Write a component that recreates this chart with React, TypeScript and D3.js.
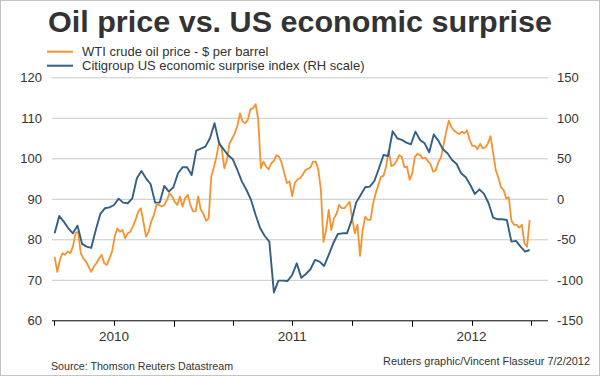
import React from "react";
import * as d3 from "d3";

// ---- Data ----
const oilStart = new Date(2010, 6, 2);
const oilStepDays = 4;
const oilPrice: number[] = [
  75.8, 72.1, 75, 76.7, 76.3, 77.1, 76.7, 78.3, 81.6, 82,
  76.7, 75.4, 74.6, 73.4, 72.1, 73.4, 74.2, 75.4, 76.3, 74.2,
  73.8, 75.4, 77.1, 80.8, 82.8, 82, 82.4, 80.4, 81.6, 82,
  83.3, 84.9, 87, 87.8, 84.5, 80.8, 82, 84.5, 86.1, 88.6,
  88.6, 88.2, 88.6, 89.8, 91.5, 90.7, 89.4, 88.6, 90.7, 88.2,
  90.3, 91.1, 88.6, 87, 87, 90.7, 87.4, 86.4, 84.7, 85.3,
  95.6, 97.9, 100.5, 104.2, 102.6, 97.7, 99.7, 103.8, 105, 106.3,
  108.1, 111.2, 109.2, 108.8, 109.6, 112.2, 112.5, 113.5, 109.6, 97.7,
  99.3, 98.1, 97.4, 98.9, 99.5, 100.9, 100.5, 98.9, 96.4, 94,
  94.4, 90.8, 94, 94.9, 95.2, 96, 97.2, 97.5, 97.9, 99.3,
  99.3, 97.4, 92.3, 79.5, 82.4, 87.4, 82.4, 85.3, 86.5, 88.6,
  87.8, 87.8, 88.6, 89.4, 85.3, 81.6, 83.7, 76, 82.4, 85.7,
  84.9, 84.9, 89, 91.5, 93.5, 95.6, 95.8, 98.1, 102, 98.2,
  98.5, 99.5, 100.9, 100.5, 97.9, 98.1, 94.8, 96.4, 100.5, 101.2,
  100.9, 100.1, 100.3, 99.4, 98.7, 96.8, 97.2, 99.1, 100.3, 103.4,
  106.7, 109.4, 107.8, 107, 106.5, 106.1, 106.7, 106.3, 107, 104.7,
  103.2, 103.2, 102.4, 103.7, 102.6, 102.8, 103.8, 105.6, 101.4, 97.2,
  95.4, 93, 92.3, 90.2, 90.5, 84.7, 83.7, 83.7, 83, 83.7,
  79.1, 78.3, 84.9,
];

const citiStart = new Date(2010, 6, 2);
const citiStepDays = 7;
const citiSurprise: number[] = [
  -42, -20.6, -27.6, -35.8, -42, -32.5, -55, -58.4, -60, -37.9,
  -18.1, -11.1, -9.9, -7, 0.8, -4.1, -4.9, 1.2, 25.9, 35,
  25.9, 18.9, -4.1, -4.1, 16.5, 9.5, 14.8, 32.1, 39.5, 39.5,
  30, 60.1, 62.6, 65, 75.3, 94, 69.1, 61.7, 54.3, 49.4,
  36.2, 21.8, 11.5, -0.8, -19.3, -35.8, -45.3, -52.3, -115, -100.4,
  -100.4, -100.8, -93.4, -79, -97, -92.2, -86.4, -74.9, -77, -82.3,
  -68.7, -54.3, -42.8, -42, -42, -26.3, -4.1, 5.3, 14.8, 15.6,
  22.6, 38.3, 54.7, 53.5, 84, 75.3, 73.3, 70, 67.9, 83.5,
  73.3, 69.1, 58, 80, 72.4, 61.7, 56.8, 48.6, 43.6, 32.1,
  27.2, 17.7, 6.6, 12.3, 6.6, -4.9, -22.6, -24.7, -24.7, -25.5,
  -52.3, -51.4, -58.4, -64.6, -62.6,
];

const leftTicks = [60, 70, 80, 90, 100, 110, 120];
const rightTicks = [-150, -100, -50, 0, 50, 100, 150];
const yearLabels = [
  { label: "2010", date: new Date(2010, 9, 1) },
  { label: "2011", date: new Date(2011, 6, 1) },
  { label: "2012", date: new Date(2012, 3, 1) },
];
const titleText = "Oil price vs. US economic surprise";
const legendItems = [
  { label: "WTI crude oil price - $ per barrel", color: "#f6922f" },
  { label: "Citigroup US economic surprise index (RH scale)", color: "#335f85" },
];
const sourceText = "Source: Thomson Reuters Datastream";
const creditText = "Reuters graphic/Vincent Flasseur 7/2/2012";

// ---- Layout ----
const W = 600;
const H = 376;
const plotLeft = 52;
const plotRight = 548;
const plotTop = 77.8;
const plotBottom = 320.8;
const FONT = "'Liberation Sans', Arial, sans-serif";

export default function App() {
  const x = d3
    .scaleTime()
    .domain([new Date(2010, 6, 1), new Date(2012, 6, 1)])
    .range([54, 531]);
  const yL = d3.scaleLinear().domain([60, 120]).range([plotBottom, plotTop]);
  const yR = d3.scaleLinear().domain([-150, 150]).range([plotBottom, plotTop]);

  const oilPts = oilPrice.map((v, i) => ({
    d: d3.timeDay.offset(oilStart, i * oilStepDays),
    v,
  }));
  const citiPts = citiSurprise.map((v, i) => ({
    d: d3.timeDay.offset(citiStart, i * citiStepDays),
    v,
  }));

  const oilLine = d3
    .line<{ d: Date; v: number }>()
    .x((p) => x(p.d))
    .y((p) => yL(p.v));
  const citiLine = d3
    .line<{ d: Date; v: number }>()
    .x((p) => x(p.d))
    .y((p) => yR(p.v));

  const ticks = d3.timeMonth.every(3)!.range(new Date(2010, 6, 1), new Date(2012, 6, 2));

  return (
    <svg
      width={W}
      height={H}
      style={{ position: "absolute", left: 0, top: 0, background: "#fff" }}
      fontFamily={FONT}
    >
      <rect x={0} y={0} width={W} height={H} fill="#fff" />
      <rect x={0.5} y={0.5} width={W - 1} height={H - 1} fill="none" stroke="#c4c4c4" />

      <text
        x={300}
        y={32}
        textAnchor="middle"
        fontSize={30}
        fontWeight="bold"
        fill="#333"
        textLength={504}
        lengthAdjust="spacingAndGlyphs"
      >
        {titleText}
      </text>

      {legendItems.map((item, i) => (
        <g key={item.label}>
          <line
            x1={47}
            x2={73}
            y1={51.7 + i * 14}
            y2={51.7 + i * 14}
            stroke={item.color}
            strokeWidth={2}
          />
          <text x={82} y={56 + i * 14} fontSize={13} fill="#333">
            {item.label}
          </text>
        </g>
      ))}

      {leftTicks.map((t) =>
        t === 60 ? null : (
          <line
            key={"g" + t}
            x1={plotLeft}
            x2={plotRight}
            y1={yL(t)}
            y2={yL(t)}
            stroke="#c8c8c8"
            strokeWidth={1}
          />
        )
      )}

      {leftTicks.map((t) => (
        <text key={"l" + t} x={42} y={yL(t) + 4.5} textAnchor="end" fontSize={13} fill="#333">
          {t}
        </text>
      ))}
      {rightTicks.map((t) => (
        <text key={"r" + t} x={557} y={yR(t) + 4.5} textAnchor="start" fontSize={13} fill="#333">
          {t}
        </text>
      ))}

      <path d={oilLine(oilPts) || ""} fill="none" stroke="#f6922f" strokeWidth={1.8} strokeLinejoin="round" />
      <path d={citiLine(citiPts) || ""} fill="none" stroke="#335f85" strokeWidth={1.9} strokeLinejoin="round" />

      <line x1={plotLeft} x2={plotRight} y1={plotBottom} y2={plotBottom} stroke="#000" strokeWidth={1} />
      {ticks.map((t) => (
        <line
          key={t.toISOString()}
          x1={Math.round(x(t)) + 0.5}
          x2={Math.round(x(t)) + 0.5}
          y1={plotBottom}
          y2={plotBottom + (t.getMonth() === 0 ? 6 : 5)}
          stroke="#000"
          strokeWidth={1}
        />
      ))}
      {yearLabels.map((yl) => (
        <text key={yl.label} x={x(yl.date)} y={341} textAnchor="middle" fontSize={13.5} fill="#333">
          {yl.label}
        </text>
      ))}

      <text x={51} y={370} fontSize={11} fill="#333" textLength={182} lengthAdjust="spacingAndGlyphs">
        {sourceText}
      </text>
      <text x={383} y={365} fontSize={11} fill="#333" textLength={207} lengthAdjust="spacingAndGlyphs">
        {creditText}
      </text>
    </svg>
  );
}
